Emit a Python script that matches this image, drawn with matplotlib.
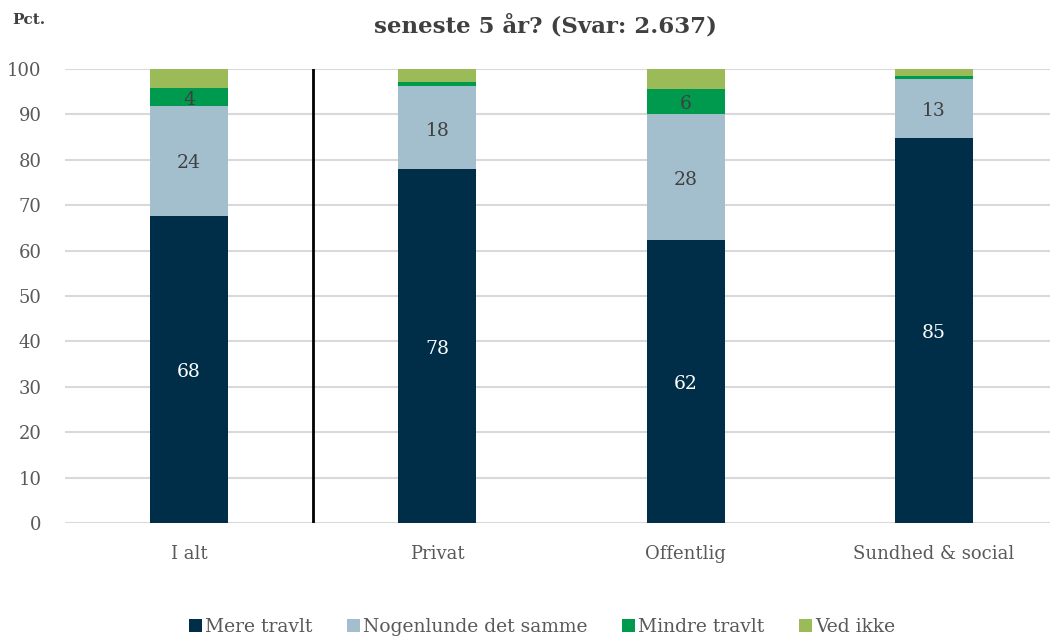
import matplotlib
matplotlib.use('Agg')
import matplotlib.pyplot as plt
import numpy as np

# ── data ─────────────────────────────────────────────
categories = ['I alt', 'Privat', 'Offentlig', 'Sundhed & social']
series_names = ['Mere travlt', 'Nogenlunde det samme', 'Mindre travlt', 'Ved ikke']
mere_travlt = [67.7, 77.9, 62.4, 84.7]
nogenlunde = [24.2, 18.3, 27.6, 13.1]
mindre_travlt = [3.9, 0.9, 5.6, 0.7]
ved_ikke = [4.2, 2.9, 4.4, 1.5]
title_text = 'seneste 5 år? (Svar: 2.637)'

COLORS = ['#002E48', '#A3BFCD', '#009A4E', '#9BBB59']
LABEL_COLORS = ['white', '#404040', '#404040', '#404040']

plt.rcParams['font.family'] = ['DejaVu Serif']

fig = plt.figure(figsize=(10.5, 6.39), dpi=100)
ax = fig.add_axes([65 / 1050, 116 / 639, 993 / 1050, 454 / 639])

x = np.arange(len(categories))
bottom = np.zeros(len(categories))
all_series = [mere_travlt, nogenlunde, mindre_travlt, ved_ikke]
for vals, name, col, lcol in zip(all_series, series_names, COLORS, LABEL_COLORS):
    vals = np.array(vals)
    ax.bar(x, vals, width=0.314, bottom=bottom, color=col, label=name, zorder=3)
    for xi, v, b in zip(x, vals, bottom):
        if v >= 3.5 and name != 'Ved ikke':
            ax.text(xi, b + v / 2 - 0.6, f'{v:.0f}', ha='center', va='center',
                    fontsize=13.5, color=lcol, zorder=4)
    bottom += vals

# separator between total and sectors
ax.plot([0.5, 0.5], [0, 100], color='black', linewidth=2, zorder=5)

ax.set_xlim(-0.5, 3.5)
ax.set_ylim(0, 100)
ax.set_yticks(range(0, 101, 10))
ax.set_xticks(x)
ax.set_xticklabels(categories)
ax.tick_params(axis='both', length=0, labelsize=13, labelcolor='#595959')
ax.tick_params(axis='x', pad=16)
ax.tick_params(axis='y', pad=17)
ax.grid(axis='y', color='#D9D9D9', linewidth=1.5, zorder=0)
for s in ax.spines.values():
    s.set_visible(False)

fig.text(12 / 1050, 1 - 20 / 639, 'Pct.', fontsize=11, color='#404040',
         fontweight='bold', va='center', ha='left')
fig.text(545 / 1050, 1 - 26 / 639, title_text, fontsize=16.5, color='#404040',
         fontweight='bold', ha='center', va='center')

fig.legend(loc='center', bbox_to_anchor=(542 / 1050, 1 - 627 / 639), ncol=4,
           frameon=False, fontsize=13.5, handlelength=0.7, handleheight=0.7,
           handletextpad=0.2, columnspacing=1.8, labelcolor='#595959')

fig.savefig('out.png', dpi=100)
